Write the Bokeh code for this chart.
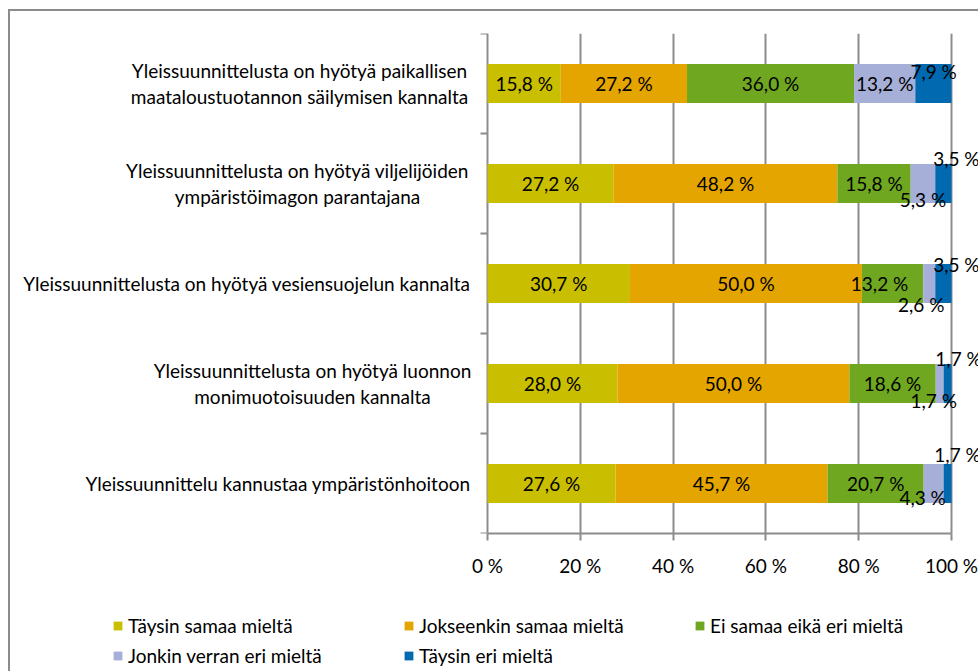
from bokeh.plotting import figure
from bokeh.layouts import column
from bokeh.models import (ColumnDataSource, Range1d, FixedTicker, LabelSet, Label,
                          Legend, LegendItem)
from bokeh.core.properties import value
from bokeh.embed import file_html
from bokeh.resources import INLINE

# ---------------- data ----------------
statements = [
    "Yleissuunnittelusta on hyötyä paikallisen\nmaataloustuotannon säilymisen kannalta",
    "Yleissuunnittelusta on hyötyä viljelijöiden\nympäristöimagon parantajana",
    "Yleissuunnittelusta on hyötyä vesiensuojelun kannalta",
    "Yleissuunnittelusta on hyötyä luonnon\nmonimuotoisuuden kannalta",
    "Yleissuunnittelu kannustaa ympäristönhoitoon",
]
series_names = [
    "Täysin samaa mieltä",
    "Jokseenkin samaa mieltä",
    "Ei samaa eikä eri mieltä",
    "Jonkin verran eri mieltä",
    "Täysin eri mieltä",
]
taysin_samaa = [15.8, 27.2, 30.7, 28.0, 27.6]
jokseenkin_samaa = [27.2, 48.2, 50.0, 50.0, 45.7]
ei_samaa_eika_eri = [36.0, 15.8, 13.2, 18.6, 20.7]
jonkin_verran_eri = [13.2, 5.3, 2.6, 1.7, 4.3]
taysin_eri = [7.9, 3.5, 3.5, 1.7, 1.7]
x_ticks = [0, 20, 40, 60, 80, 100]
x_tick_labels = ["0 %", "20 %", "40 %", "60 %", "80 %", "100 %"]

series_values = [taysin_samaa, jokseenkin_samaa, ei_samaa_eika_eri,
                 jonkin_verran_eri, taysin_eri]

# ---------------- style / layout ----------------
colors = ["#C9BF00", "#E5A500", "#6FA820", "#A6AFD7", "#0069AF"]
FONT = "Lato"
FS = "19px"
GRID = "#8c8c8c"
W = 968
PX_PER_PCT = 4.64           # 464 px for 0..100 %
ZERO_PX = 477               # screen x of 0 %
X_START = -ZERO_PX / PX_PER_PCT
X_END = (W - ZERO_PX) / PX_PER_PCT
TICK_PCT = 7 / PX_PER_PCT   # category tick length

# manual data-label nudges (screen px, x right / y up), keyed by (row, series)
label_nudge = {
    (0, 4): (0, 12),
    (1, 3): (0, -16), (1, 4): (13, 25),
    (2, 2): (-13, 0), (2, 3): (-8, -21), (2, 4): (13, 19),
    (3, 3): (-6, -17), (3, 4): (11, 25),
    (4, 3): (-11, -14), (4, 4): (10, 29),
}
# category label anchors (screen px from the 0 % line)
cat_align = ["center", "center", "right", "center", "right"]
cat_xoff = [-188, -190, -17, -175, -17]

n = len(statements)
p = figure(width=W, height=582, output_backend="svg", toolbar_location=None,
           x_range=Range1d(X_START, X_END), y_range=Range1d(n, 0),
           y_axis_location=None,
           min_border_left=0, min_border_right=0, min_border_top=22,
           min_border_bottom=60, outline_line_color=None,
           background_fill_color="white", border_fill_color="white")

rows = [i + 0.5 for i in range(n)]
bounds = list(range(n + 1))
cum = [0.0] * n
lab = dict(x=[], y=[], text=[], xo=[], yo=[])
for j, vals in enumerate(series_values):
    left = list(cum)
    right = [min(a + b, 100.0) for a, b in zip(cum, vals)]
    src = ColumnDataSource(dict(y=rows, left=left, right=right))
    p.hbar(y="y", left="left", right="right", height=0.39, source=src,
           fill_color=colors[j], line_color=None)
    for i, v in enumerate(vals):
        lab["x"].append(left[i] + v / 2)
        lab["y"].append(rows[i])
        lab["text"].append(f"{v:.1f}".replace(".", ",") + " %")
        dx, dy = label_nudge.get((i, j), (0, 0))
        lab["xo"].append(dx)
        lab["yo"].append(dy)
    cum = [a + b for a, b in zip(cum, vals)]

p.add_layout(LabelSet(x="x", y="y", text="text", x_offset="xo", y_offset="yo",
                      source=ColumnDataSource(lab), text_align="center",
                      text_baseline="middle", text_font=value(FONT),
                      text_font_size=FS, text_color="black"))

# category axis: tick marks at category boundaries + labels
p.segment(x0=[-TICK_PCT] * len(bounds), x1=[0] * len(bounds), y0=bounds, y1=bounds,
          line_color=GRID, line_width=2)
for i, s in enumerate(statements):
    p.add_layout(Label(x=0, y=rows[i], x_offset=cat_xoff[i], text=s,
                       text_align=cat_align[i], text_baseline="middle",
                       text_font=FONT, text_font_size=FS, text_color="black",
                       text_line_height=1.15))

# x axis
p.xaxis.ticker = FixedTicker(ticks=x_ticks)
p.xaxis.bounds = (x_ticks[0], x_ticks[-1])
p.xaxis.major_label_overrides = dict(zip(x_ticks, x_tick_labels))
p.xaxis.major_label_text_font = FONT
p.xaxis.major_label_text_font_size = FS
p.xaxis.major_label_text_color = "black"
p.xaxis.major_label_standoff = 13
p.xaxis.major_tick_out = 7
p.xaxis.major_tick_in = 0
p.xaxis.minor_tick_line_color = None
p.xaxis.axis_line_color = GRID
p.xaxis.axis_line_width = 2
p.xaxis.major_tick_line_color = GRID
p.xaxis.major_tick_line_width = 2

p.xgrid.ticker = FixedTicker(ticks=x_ticks)
p.xgrid.grid_line_color = GRID
p.xgrid.grid_line_width = 2
p.ygrid.grid_line_color = None

# ---------------- legend strip ----------------
lg_fig = figure(width=W, height=78, output_backend="svg", toolbar_location=None,
                x_range=Range1d(0, 1), y_range=Range1d(0, 1),
                x_axis_location=None, y_axis_location=None,
                min_border_left=0, min_border_right=0, min_border_top=0,
                min_border_bottom=0, outline_line_color=None,
                background_fill_color="white", border_fill_color="white")
lg_fig.xgrid.grid_line_color = None
lg_fig.ygrid.grid_line_color = None
# zero-width swatch carriers for the legend (nothing visible in the strip)
lg_renderers = [lg_fig.hbar(y=[0.5], left=[0], right=[0], height=0.5,
                            fill_color=c, line_color=None) for c in colors]
legend = Legend(items=[LegendItem(label=nm, renderers=[r])
                       for nm, r in zip(series_names, lg_renderers)],
                orientation="horizontal", ncols=3, location=(102, 4),
                glyph_width=11, glyph_height=11, label_standoff=5, spacing=7,
                label_width=268, label_height=20, padding=0, margin=0,
                border_line_color=None, background_fill_alpha=0,
                label_text_font=FONT, label_text_font_size=FS,
                label_text_color="black")
lg_fig.add_layout(legend, "center")

layout = column(p, lg_fig, spacing=0,
                styles={"border-left": "2px solid #8c8c8c",
                        "border-top": "2px solid #8c8c8c",
                        "margin-left": "8px", "margin-top": "9px"})

open("out.html", "w").write(file_html(layout, INLINE))
